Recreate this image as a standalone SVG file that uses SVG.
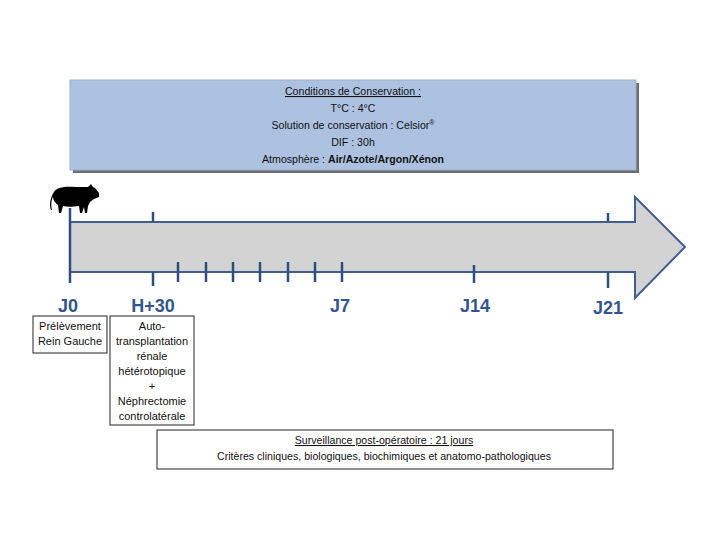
<svg xmlns="http://www.w3.org/2000/svg" width="720" height="540" viewBox="0 0 720 540">
<style>
.t{font-family:"Liberation Sans",Arial,sans-serif;font-size:10.6px;fill:#111;text-anchor:middle}
.b2{font-size:11px}
.lbl{font-family:"Liberation Sans",Arial,sans-serif;font-size:18px;font-weight:bold;fill:#34558c;text-anchor:middle}
.tick{stroke:#2f4d80;stroke-width:2.5}
.box{fill:#fff;stroke:#222;stroke-width:1}
</style>
<rect width="720" height="540" fill="#fff"/>
<g id="conditions">
<rect x="73" y="83" width="566" height="90" fill="#6f6f6f"/>
<rect x="70" y="80" width="566" height="90" fill="#adc1e0" stroke="#9fb0cc" stroke-width="1"/>
<text class="t" x="353" y="95" text-decoration="underline">Conditions de Conservation :</text>
<text class="t" x="353" y="112">T°C : 4°C</text>
<text class="t" x="353" y="129">Solution de conservation : Celsior<tspan font-size="7" dy="-4">®</tspan></text>
<text class="t" x="353" y="146">DIF : 30h</text>
<text class="t" x="353" y="163">Atmosphère : <tspan font-weight="bold">Air/Azote/Argon/Xénon</tspan></text>
</g>
<g id="timeline">
<path d="M70 222 L635 222 L635 197 L685 247 L635 298 L635 272 L70 272 Z" fill="#d3d3d3" stroke="#3f5f90" stroke-width="2"/>
</g>
<g id="pig">
<path d="M54 192 C56 187 66 186 76 187 L88 187 L91 184 L93 187 L95 188 L99 193 L99 197 L94 199 L90 202 L88 206 L87 213 L85 213 L84 207 L82 213 L80 213 L79 206 C72 207 67 207 63 206 L61 213 L59 213 L58 205 C55 203 53 200 53 197 C51 200 51 206 52 210 L51 210 C49 205 50 198 54 192 Z" fill="#000"/>
</g>
<g id="ticks">
<line class="tick" x1="70" y1="208" x2="70" y2="283"/>
<line class="tick" x1="153" y1="212" x2="153" y2="222"/>
<line class="tick" x1="153" y1="272" x2="153" y2="286"/>
<line class="tick" x1="178" y1="262" x2="178" y2="282"/>
<line class="tick" x1="206" y1="262" x2="206" y2="282"/>
<line class="tick" x1="233" y1="262" x2="233" y2="282"/>
<line class="tick" x1="260" y1="262" x2="260" y2="282"/>
<line class="tick" x1="288" y1="262" x2="288" y2="282"/>
<line class="tick" x1="315" y1="262" x2="315" y2="282"/>
<line class="tick" x1="342" y1="262" x2="342" y2="282"/>
<line class="tick" x1="474" y1="265" x2="474" y2="283"/>
<line class="tick" x1="608" y1="213" x2="608" y2="222"/>
<line class="tick" x1="608" y1="272" x2="608" y2="288"/>
</g>
<g id="labels">
<text class="lbl" x="68" y="312">J0</text>
<text class="lbl" x="153" y="312">H+30</text>
<text class="lbl" x="340" y="312">J7</text>
<text class="lbl" x="475" y="312">J14</text>
<text class="lbl" x="608" y="314">J21</text>
</g>
<g id="prelevement">
<rect class="box" x="33" y="316" width="74" height="37"/>
<text class="t b2" x="70" y="330">Prélèvement</text>
<text class="t b2" x="70" y="345">Rein Gauche</text>
</g>
<g id="autotransplantation">
<rect class="box" x="110" y="316" width="84" height="109"/>
<text class="t b2" x="152" y="330">Auto-</text>
<text class="t b2" x="152" y="345">transplantation</text>
<text class="t b2" x="152" y="360">rénale</text>
<text class="t b2" x="152" y="375">hétérotopique</text>
<text class="t b2" x="152" y="390">+</text>
<text class="t b2" x="152" y="405">Néphrectomie</text>
<text class="t b2" x="152" y="420">controlatérale</text>
</g>
<g id="surveillance">
<rect class="box" x="157" y="430" width="456" height="39"/>
<text class="t" x="384" y="444" text-decoration="underline">Surveillance post-opératoire : 21 jours</text>
<text class="t" x="384" y="460">Critères cliniques, biologiques, biochimiques et anatomo-pathologiques</text>
</g>
</svg>
